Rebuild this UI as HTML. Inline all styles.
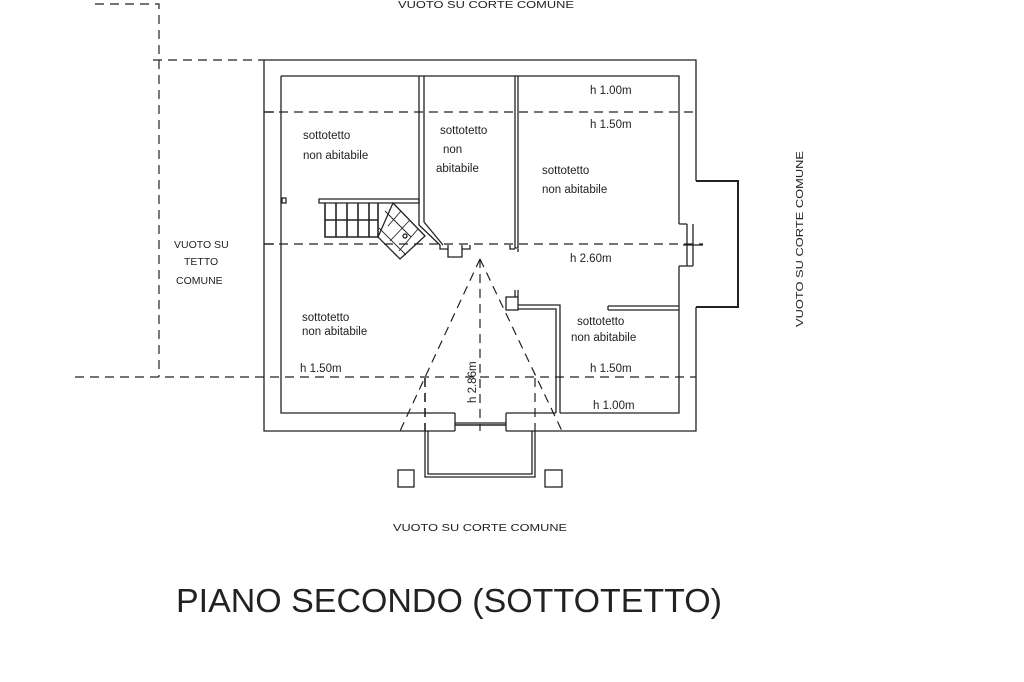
<!DOCTYPE html>
<html><head><meta charset="utf-8"><style>
html,body{margin:0;padding:0;background:#fff}
svg{display:block}
text{font-family:"Liberation Sans",Arial,sans-serif;fill:#222}
</style></head><body>
<svg width="1024" height="682" viewBox="0 0 1024 682" xmlns="http://www.w3.org/2000/svg">
<g stroke="#222" fill="none" stroke-width="1.3">
<path d="M264 60 H696 V181 M696 307 V431 H506 M455 431 H264 V60"/>
<path d="M281 76 H679 V224 M679 266 V413 H560 M556 413 H506 M455 413 H281 V76"/>
<path d="M455 413 V431 M506 413 V431 M455 423 H506" />
<line x1="455" y1="425" x2="506" y2="425" stroke-width="1.6"/>
<path d="M687 224 V266 M693 224 V266 M679 224 H687 M679 266 H693"/>
<path d="M696 181 H738 V307 H696" stroke-width="2"/>
<line x1="683" y1="245" x2="703" y2="245"/>
<path d="M419 76 V225 L440 245 M424 76 V222 L443 245"/>
<path d="M515 76 V248 H518 V76"/>
<path d="M448 245 V257 H462 V245 M440 245 V249 H448 M462 249 H470 V245"/>
<path d="M510 245 V249 H515 M518 249 V252"/>
<path d="M319 199 H419 V203 H319 Z"/>
<path d="M325 203 V237 H378 V203 M325 220 H378 M336 203 V237 M347 203 V237 M358 203 V237 M369 203 V237" stroke-width="1.6"/>
<path d="M393 203 L425 236 L400 259 L378 237 Z"/>
<path d="M385 211 L411 237 M401 211 L388 226 M410 220 L390 241 M418 229 L399 251 M379 228 L406 255" stroke-width="0.9"/>
<circle cx="405" cy="236" r="2"/>
<rect x="282" y="198" width="4" height="5"/>
<path d="M515 290 V297 M518 290 V297"/>
<rect x="506" y="297" width="12" height="13"/>
<path d="M518 305 H560 V413 M518 309 H556 V413"/>
<path d="M608 306 H679 M608 310 H679 M608 306 V310"/>
<path d="M425 431 V477 H535 V431 M428 431 V474 H532 V431"/>
<rect x="398" y="470" width="16" height="17"/>
<rect x="545" y="470" width="17" height="17"/>
<line x1="264" y1="112" x2="274" y2="112"/>
<line x1="264" y1="244" x2="274" y2="244"/>
</g>
<g stroke="#222" fill="none" stroke-width="1.2" stroke-dasharray="9,6">
<line x1="264" y1="112" x2="696" y2="112"/>
<line x1="264" y1="244" x2="703" y2="244"/>
<line x1="75" y1="377" x2="696" y2="377"/>
<line x1="153" y1="60" x2="264" y2="60"/>
<path d="M95 4 H159 V377"/>
<path d="M480 259 L400 431 M480 259 L562 431"/>
<line x1="480" y1="259" x2="480" y2="431"/>
<line x1="425" y1="378" x2="425" y2="431" stroke-width="1.6"/>
<line x1="535" y1="378" x2="535" y2="431"/>
</g>
<g font-size="11.5">
<text x="590" y="94">h 1.00m</text>
<text x="590" y="128">h 1.50m</text>
<text x="570" y="262">h 2.60m</text>
<text x="300" y="372">h 1.50m</text>
<text x="590" y="372">h 1.50m</text>
<text x="593" y="409">h 1.00m</text>
<text x="303" y="139">sottotetto</text>
<text x="303" y="159">non abitabile</text>
<text x="440" y="134">sottotetto</text>
<text x="443" y="153">non</text>
<text x="436" y="172">abitabile</text>
<text x="542" y="174">sottotetto</text>
<text x="542" y="193">non abitabile</text>
<text x="302" y="321">sottotetto</text>
<text x="302" y="335">non abitabile</text>
<text x="577" y="325">sottotetto</text>
<text x="571" y="341">non abitabile</text>
<text transform="translate(476,403) rotate(-90)">h 2.86m</text>
</g>
<g font-size="10.5">
<text x="174" y="248">VUOTO SU</text>
<text x="184" y="265">TETTO</text>
<text x="176" y="284">COMUNE</text>
<text x="398" y="8" textLength="176" lengthAdjust="spacingAndGlyphs">VUOTO SU CORTE COMUNE</text>
<text x="393" y="531" textLength="174" lengthAdjust="spacingAndGlyphs">VUOTO SU CORTE COMUNE</text>
<text transform="translate(803,327) rotate(-90)" textLength="176" lengthAdjust="spacingAndGlyphs">VUOTO SU CORTE COMUNE</text>
</g>
<text x="176" y="612" font-size="33" textLength="546" lengthAdjust="spacingAndGlyphs">PIANO SECONDO (SOTTOTETTO)</text>
</svg>
</body></html>
